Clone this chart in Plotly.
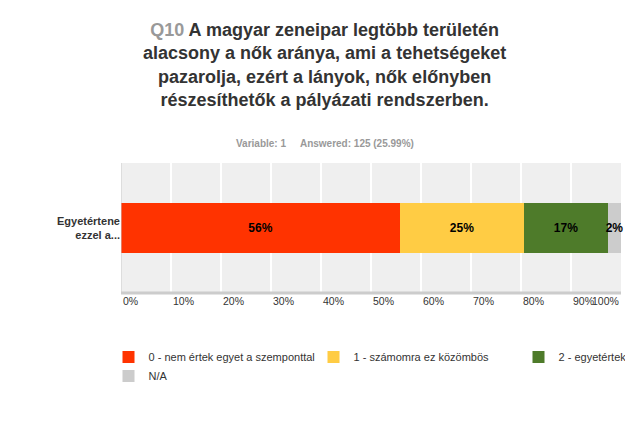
import plotly.graph_objects as go

categories = ["Egyetértene<br>ezzel a..."]
series_names = ["0 - nem értek egyet a szemponttal", "1 - számomra ez közömbös",
                "2 - egyetértek a szemponttal", "N/A"]
series_values = [55.8, 24.8, 16.8, 2.6]
series_labels = ["56%", "25%", "17%", "2%"]
colors = ["#ff3300", "#ffcc44", "#4e7b2a", "#cccccc"]
tick_vals = [0, 10, 20, 30, 40, 50, 60, 70, 80, 90, 100]
tick_text = [f"{v}%" for v in tick_vals]

fig = go.Figure()
for name, val, lab, col in zip(series_names, series_values, series_labels, colors):
    fig.add_trace(go.Bar(
        y=categories, x=[val], orientation="h", name=name,
        marker=dict(color=col, line=dict(width=0)),
        text=[lab], textposition="inside", insidetextanchor="middle",
        textangle=0, constraintext="none", cliponaxis=False,
        textfont=dict(family="Arial", size=12, color="black", weight="bold"),
        width=0.385,
    ))

# x tick labels, left-aligned at each tick
for v, t in zip(tick_vals, tick_text):
    fig.add_annotation(x=v, y=0, xref="x", yref="paper", yshift=-16, text=t,
                       showarrow=False, xanchor="left" if v < 100 else "right",
                       font=dict(family="Arial", size=10.5, color="#333333"))

# title and subtitle
fig.add_annotation(
    x=(316.5 - 113) / 5, xref="x", y=1, yref="paper", yshift=145, yanchor="top",
    xanchor="center", showarrow=False, align="center",
    text="<b><span style='color:#999999'>Q10</span> A magyar zeneipar legtöbb területén<br>"
         "alacsony a nők aránya, ami a tehetségeket<br>"
         "pazarolja, ezért a lányok, nők előnyben<br>"
         "részesíthetők a pályázati rendszerben.</b>",
    font=dict(family="Arial", size=18, color="#333333"))
fig.add_annotation(x=(316.5 - 113) / 5, xref="x", y=1, yref="paper", yshift=27,
                   xanchor="center", showarrow=False,
                   text="<b>Variable: 1&nbsp;&nbsp;&nbsp;&nbsp;&nbsp;Answered: 125 (25.99%)</b>",
                   font=dict(family="Arial", size=10, color="#999999"))

fig.update_layout(
    barmode="stack",
    width=633, height=425,
    margin=dict(l=113, r=20, t=155, b=140, autoexpand=False),
    paper_bgcolor="white", plot_bgcolor="#efefef",
    showlegend=True,
    legend=dict(orientation="h", x=-0.025, xanchor="left", y=-0.38, yanchor="top",
                entrywidth=160, entrywidthmode="pixels", traceorder="normal",
                font=dict(family="Arial", size=11, color="#333333")),
    uniformtext=dict(minsize=8, mode="show"),
)

fig.update_xaxes(range=[0, 100], tickvals=tick_vals, showticklabels=False,
                 showgrid=True, gridcolor="white", gridwidth=1.5, zeroline=False,
                 showline=False)
fig.update_yaxes(range=[-0.5, 0.5], showgrid=False, ticks="", ticklen=0,
                 automargin=False,
                 tickfont=dict(family="Arial", size=11, color="#333333", weight="bold"))
fig.add_shape(type="line", xref="x", yref="paper", x0=0, x1=100, y0=0, y1=0,
              line=dict(color="#cccccc", width=3))
fig.add_shape(type="line", xref="x", yref="paper", x0=0, x1=0, y0=0, y1=1,
              line=dict(color="#cccccc", width=1))

fig.write_html("out.html")
